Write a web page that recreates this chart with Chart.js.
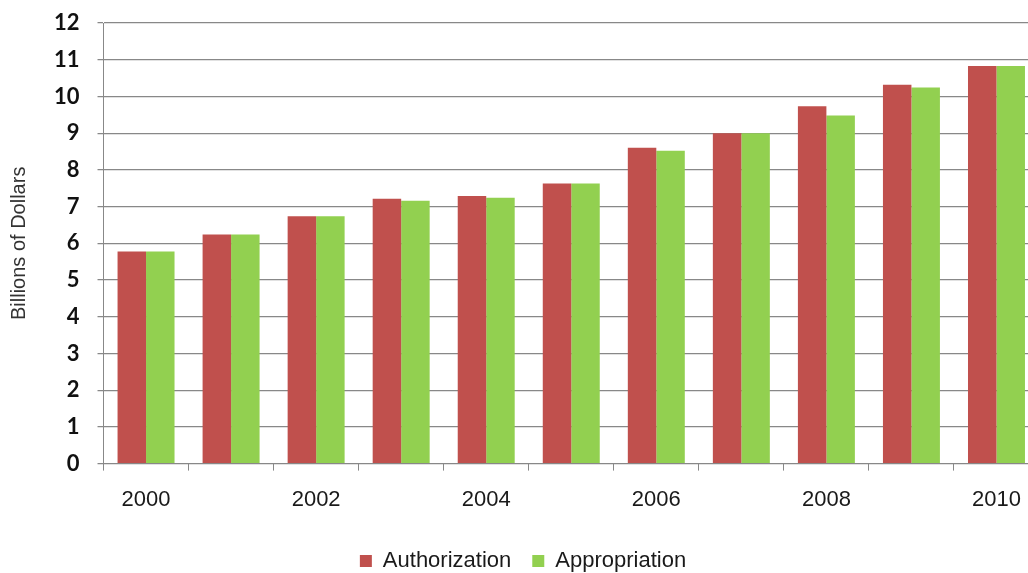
<!DOCTYPE html>
<html>
<head>
<meta charset="utf-8">
<script src="https://cdn.jsdelivr.net/npm/chart.js@4"></script>
<style>
    html, body { margin: 0; padding: 0; background: #ffffff; overflow: hidden; }
    #wrap { width: 1042px; height: 573px; }
</style>
</head>
<body>
<div id="wrap"><canvas id="bar-chart"></canvas></div>
<script>
const years = ['2000', '2001', '2002', '2003', '2004', '2005', '2006', '2007', '2008', '2009', '2010'];
const authorization = [5.78, 6.24, 6.74, 7.21, 7.29, 7.63, 8.60, 9.00, 9.73, 10.32, 10.83];
const appropriation = [5.78, 6.24, 6.74, 7.16, 7.24, 7.63, 8.52, 9.00, 9.48, 10.24, 10.83];
const yTicks = [0, 1, 2, 3, 4, 5, 6, 7, 8, 9, 10, 11, 12];

// Render grouped column chart
function renderBarChart() {
    const ctx = document.getElementById('bar-chart').getContext('2d');
    new Chart(ctx, {
        type: 'bar',
        data: {
            labels: years,
            datasets: [{
                label: 'Authorization',
                data: authorization,
                backgroundColor: '#C0504D',
                borderWidth: 0,
                categoryPercentage: 0.67,
                barPercentage: 1.0
            }, {
                label: 'Appropriation',
                data: appropriation,
                backgroundColor: '#92D050',
                borderWidth: 0,
                categoryPercentage: 0.67,
                barPercentage: 1.0
            }]
        },
        options: {
            responsive: true,
            maintainAspectRatio: false,
            animation: false,
            layout: { padding: { top: 23, right: 3, left: 7, bottom: -9 } },
            scales: {
                x: {
                    offset: true,
                    border: { color: '#888888', width: 1 },
                    grid: {
                        offset: true,
                        drawOnChartArea: false,
                        color: '#888888',
                        tickLength: 7
                    },
                    ticks: {
                        autoSkip: false,
                        maxRotation: 0,
                        padding: 16,
                        color: '#1a1a1a',
                        font: { family: 'Liberation Sans', size: 22 },
                        callback: function(value, index) {
                            return index % 2 === 0 ? years[index] : '';
                        }
                    }
                },
                y: {
                    min: 0,
                    max: 12,
                    afterBuildTicks: function(axis) {
                        axis.ticks = yTicks.map(v => ({ value: v }));
                    },
                    border: { color: '#888888', width: 1 },
                    grid: {
                        color: '#888888',
                        lineWidth: 1.2,
                        tickLength: 24,
                        tickBorderDash: [0, 18, 6, 0]
                    },
                    ticks: {
                        padding: 0,
                        color: '#111111',
                        font: { family: 'Lato', size: 22, weight: 'bold' }
                    },
                    title: {
                        display: true,
                        text: 'Billions of Dollars',
                        color: '#333333',
                        padding: { top: 0, bottom: 23 },
                        font: { family: 'Liberation Sans', size: 20 }
                    }
                }
            },
            plugins: {
                legend: {
                    position: 'bottom',
                    labels: {
                        boxWidth: 12,
                        boxHeight: 12,
                        padding: 21,
                        color: '#1a1a1a',
                        font: { family: 'Liberation Sans', size: 22 }
                    }
                },
                tooltip: { enabled: false }
            }
        }
    });
}

document.addEventListener('DOMContentLoaded', renderBarChart);
</script>
</body>
</html>
